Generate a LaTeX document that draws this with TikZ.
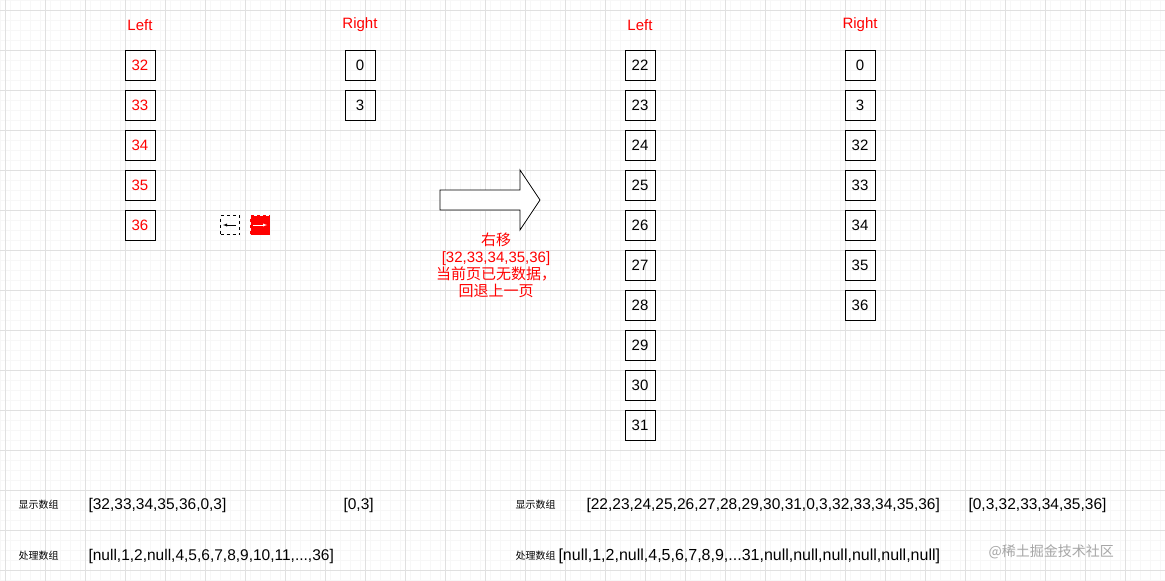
\documentclass[tikz,border=0pt]{standalone}
\usepackage{fontspec}
\setmainfont{Liberation Sans}
\newfontfamily\cjk{Noto Sans CJK SC}
\begin{document}
\begin{tikzpicture}[x=1pt,y=-1pt,
  cell/.style={draw,line width=0.8pt,minimum width=30pt,minimum height=30pt,inner sep=0pt,font=\fontsize{15}{15}\selectfont},
  rcell/.style={cell,text=red},
  lbl/.style={text=red,font=\fontsize{15}{15}\selectfont},
  small/.style={font=\cjk\fontsize{10}{10}\selectfont,anchor=west},
  arr/.style={font=\fontsize{15.5}{15.5}\selectfont,anchor=west}]
\useasboundingbox (0,0) rectangle (1165,581);
\fill[white] (0,0) rectangle (1165,581);
\draw[black!3,line width=0.4pt] (0,0) grid[step=10pt] (1165,581);
\foreach \x in {5,45,...,1165} \draw[black!12,line width=0.6pt] (\x,0) -- (\x,581);
\foreach \y in {10,50,...,581} \draw[black!12,line width=0.6pt] (0,\y) -- (1165,\y);
\node[lbl] (l1) at (140,25) {Left};
\node[lbl] (r1) at (360,25) {Right};
\node[lbl] (l2) at (640,25) {Left};
\node[lbl] (r2) at (860,25) {Right};
\foreach \v [count=\i] in {32,33,34,35,36}
  \node[rcell] (a\i) at (140,25+40*\i) {\v};
\node[cell] (b1) at (360,65) {0};
\node[cell] (b2) at (360,105) {3};
\foreach \v [count=\i] in {22,...,31}
  \node[cell] (c\i) at (640,25+40*\i) {\v};
\foreach \v [count=\i] in {0,3,32,33,34,35,36}
  \node[cell] (d\i) at (860,25+40*\i) {\v};
\node[draw,dashed,minimum size=19pt,inner sep=0pt] (bl) at (230,225) {};
\draw[-latex] ([xshift=6pt]bl.center) -- ([xshift=-7pt]bl.center);
\node[draw=red,fill=red,dashed,minimum size=19pt,inner sep=0pt] (br) at (260,225) {};
\draw[white,-latex] ([xshift=-7pt]br.center) -- ([xshift=7pt]br.center);
\draw[line width=0.8pt,fill=white] (440,190) -- (520,190) -- (520,170) -- (540,200) -- (520,230) -- (520,210) -- (440,210) -- cycle;
\node[text=red,align=center,font=\fontsize{15}{17}\selectfont] (t) at (496,265) {{\cjk 右移}\\{[32,33,34,35,36]}\\{\cjk 当前页已无数据，}\\{\cjk 回退上一页}};
\node[small] (s1) at (15,505) {显示数组};
\node[small] (s2) at (15,556) {处理数组};
\node[arr] (s3) at (85,505) {[32,33,34,35,36,0,3]};
\node[arr] (s4) at (340,505) {[0,3]};
\node[arr] (s5) at (85,556) {[null,1,2,null,4,5,6,7,8,9,10,11,...,36]};
\node[small] (s6) at (512,505) {显示数组};
\node[small] (s7) at (512,556) {处理数组};
\node[arr] (s8) at (583,505) {[22,23,24,25,26,27,28,29,30,31,0,3,32,33,34,35,36]};
\node[arr] (s9) at (965,505) {[0,3,32,33,34,35,36]};
\node[arr,font=\fontsize{16}{16}\selectfont] (s10) at (555,556) {[null,1,2,null,4,5,6,7,8,9,...31,null,null,null,null,null,null]};
\node[font=\cjk\fontsize{14}{14}\selectfont,text=black!35,anchor=west] (wm) at (985,552) {@稀土掘金技术社区};
\end{tikzpicture}
\end{document}
